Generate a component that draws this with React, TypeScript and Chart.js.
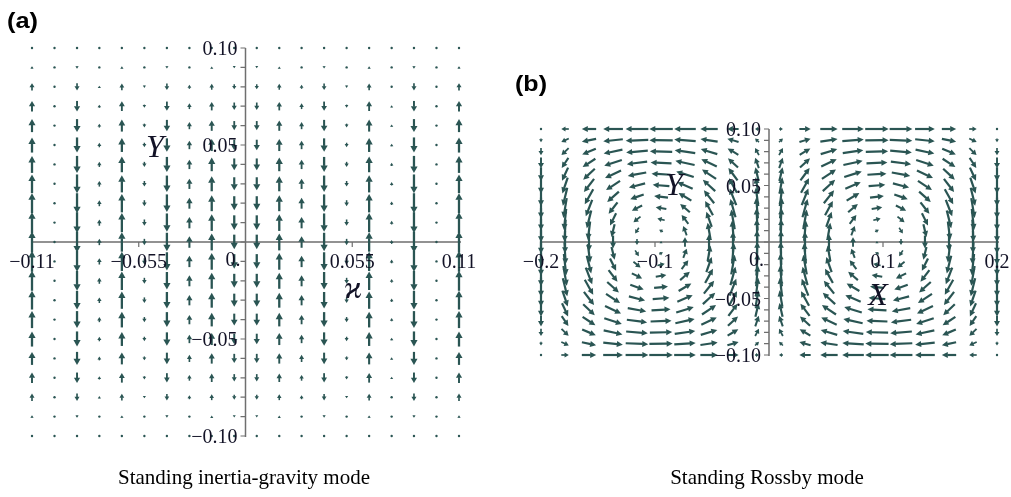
import { useEffect, useRef } from 'react';
import { Chart, registerables } from 'chart.js';

Chart.register(...registerables);

const INK = '#2a5553';
const AXIS_COLOR = '#6f6f6f';
const TEXT_COLOR = '#121226';
const SERIF = "'Liberation Serif', 'DejaVu Serif', serif";
const SANS = "'Liberation Sans', Arial, sans-serif";

// ---------- (a) Standing inertia-gravity mode: vertical velocity field ----------
const igX = [-0.11, -0.0984, -0.0868, -0.0753, -0.0637, -0.0521, -0.0405, -0.0289, -0.0174, -0.0058,
  0.0058, 0.0174, 0.0289, 0.0405, 0.0521, 0.0637, 0.0753, 0.0868, 0.0984, 0.11];
const igY = [-0.1, -0.09, -0.08, -0.07, -0.06, -0.05, -0.04, -0.03, -0.02, -0.01, 0,
  0.01, 0.02, 0.03, 0.04, 0.05, 0.06, 0.07, 0.08, 0.09, 0.1];
// signed column amplitude (positive = upward)
const igColumnW = [1.0, 0.05, -1.0, 0.3, 0.92, -0.3, -0.88, 0.55, 0.8, -0.7,
  -0.7, 0.8, 0.55, -0.88, -0.3, 0.92, 0.18, -1.0, 0.05, 1.0];
// row envelope
const igRowW = [0, 0.12, 0.35, 0.5, 0.62, 0.72, 0.81, 0.89, 0.95, 0.99, 1,
  0.99, 0.95, 0.89, 0.81, 0.72, 0.62, 0.5, 0.35, 0.12, 0];
const igXTickValues = [-0.11, -0.055, 0.055, 0.11];
const igXTickLabels = ['−0.11', '−0.055', '0.055', '0.11'];
const igYLabelValues = [0.1, 0.05, -0.05, -0.1];
const igYTickLabels = ['0.10', '0.05', '−0.05', '−0.10'];

// ---------- (b) Standing Rossby mode: horizontal velocity field (two gyres) ----------
const rbX = [-0.2, -0.1789, -0.1579, -0.1368, -0.1158, -0.0947, -0.0737, -0.0526, -0.0316, -0.0105,
  0.0105, 0.0316, 0.0526, 0.0737, 0.0947, 0.1158, 0.1368, 0.1579, 0.1789, 0.2];
const rbY = [-0.1, -0.09, -0.08, -0.07, -0.06, -0.05, -0.04, -0.03, -0.02, -0.01, 0,
  0.01, 0.02, 0.03, 0.04, 0.05, 0.06, 0.07, 0.08, 0.09, 0.1];
const rbUCol = [0, -0.32, -0.61, -0.84, -0.97, -1.0, -0.92, -0.74, -0.48, -0.17,
  0.17, 0.48, 0.74, 0.92, 1.0, 0.97, 0.84, 0.61, 0.32, 0];
const rbURow = [-1, -0.99, -0.95, -0.89, -0.81, -0.71, -0.59, -0.45, -0.31, -0.16, 0,
  0.16, 0.31, 0.45, 0.59, 0.71, 0.81, 0.89, 0.95, 0.99, 1];
const rbVCol = [-1, -0.95, -0.79, -0.55, -0.25, 0.08, 0.4, 0.68, 0.88, 0.99,
  0.99, 0.88, 0.68, 0.4, 0.08, -0.25, -0.55, -0.79, -0.95, -1];
const rbVRow = [0, 0.16, 0.31, 0.45, 0.59, 0.71, 0.81, 0.89, 0.95, 0.99, 1,
  0.99, 0.95, 0.89, 0.81, 0.71, 0.59, 0.45, 0.31, 0.16, 0];
const rbXTickValues = [-0.2, -0.1, 0.1, 0.2];
const rbXTickLabels = ['−0.2', '−0.1', '0.1', '0.2'];
const rbYLabelValues = [0.1, 0.05, -0.05, -0.1];
const rbYTickLabels = ['0.10', '0.05', '−0.05', '−0.10'];

type Vec = { x: number; y: number; u: number; v: number };

const igPoints: Vec[] = [];
igY.forEach((y, j) => igX.forEach((x, i) => igPoints.push({ x, y, u: 0, v: igColumnW[i] * igRowW[j] })));
const rbPoints: Vec[] = [];
rbY.forEach((y, j) => rbX.forEach((x, i) =>
  rbPoints.push({ x, y, u: rbUCol[i] * rbURow[j], v: rbVCol[i] * rbVRow[j] })));

type Spec = {
  id: string;
  left: number;
  width: number;
  pad: { left: number; right: number; top: number; bottom: number };
  xRange: [number, number];
  yRange: [number, number];
  points: Vec[];
  arrowPx: number;
  head: { len: number; half: number; shaft: number };
  xTickValues: number[];
  xTickLabels: string[];
  yMinor: number[];
  yLabelValues: number[];
  yTickLabels: string[];
  axisNames: { text: string; x: number; y: number }[];
  tag: { text: string; x: number; y: number; w: number };
  caption: { text: string; x: number; y: number };
};

const HEIGHT = 497;

const specs: Spec[] = [
  {
    id: 'a', left: 0, width: 505,
    pad: { left: 32, right: 46, top: 48, bottom: 61 },
    xRange: [-0.11, 0.11], yRange: [-0.1, 0.1],
    points: igPoints, arrowPx: 21,
    head: { len: 6.5, half: 3.6, shaft: 2.3 },
    xTickValues: igXTickValues, xTickLabels: igXTickLabels,
    yMinor: igY, yLabelValues: igYLabelValues, yTickLabels: igYTickLabels,
    axisNames: [{ text: 'Y', x: 155, y: 157 }, { text: 'ϰ', x: 353, y: 298 }],
    tag: { text: '(a)', x: 7, y: 28, w: 31 },
    caption: { text: 'Standing inertia-gravity mode', x: 244, y: 484 },
  },
  {
    id: 'b', left: 505, width: 506,
    pad: { left: 36, right: 14, top: 129, bottom: 142 },
    xRange: [-0.2, 0.2], yRange: [-0.1, 0.1],
    points: rbPoints, arrowPx: 23.5,
    head: { len: 6, half: 3.0, shaft: 2.2 },
    xTickValues: rbXTickValues, xTickLabels: rbXTickLabels,
    yMinor: rbY, yLabelValues: rbYLabelValues, yTickLabels: rbYTickLabels,
    axisNames: [{ text: 'Y', x: 674, y: 195 }, { text: 'X', x: 878, y: 305 }],
    tag: { text: '(b)', x: 515, y: 91, w: 32 },
    caption: { text: 'Standing Rossby mode', x: 767, y: 484 },
  },
];

function drawArrow(ctx: CanvasRenderingContext2D, cx: number, cy: number, dx: number, dy: number,
  st: { len: number; half: number; shaft: number }) {
  const len = Math.hypot(dx, dy);
  ctx.fillStyle = INK;
  ctx.strokeStyle = INK;
  if (len < 1.4) {
    ctx.beginPath();
    ctx.arc(cx, cy, 1.2, 0, Math.PI * 2);
    ctx.fill();
    return;
  }
  const ux = dx / len;
  const uy = dy / len;
  const hl = Math.min(st.len, 0.35 * len + 1.6);
  const hw = Math.min(st.half, 0.18 * len + 1.2);
  const sw = Math.min(st.shaft, 0.09 * len + 1.0);
  const sx = cx - dx / 2;
  const sy = cy - dy / 2;
  const ex = cx + dx / 2;
  const ey = cy + dy / 2;
  const bx = ex - ux * hl;
  const by = ey - uy * hl;
  ctx.lineWidth = sw;
  ctx.lineCap = 'butt';
  ctx.beginPath();
  ctx.moveTo(sx, sy);
  ctx.lineTo(bx + ux * 0.5, by + uy * 0.5);
  ctx.stroke();
  ctx.beginPath();
  ctx.moveTo(ex, ey);
  ctx.lineTo(bx - uy * hw, by + ux * hw);
  ctx.lineTo(bx + uy * hw, by - ux * hw);
  ctx.closePath();
  ctx.fill();
}

function makePlugin(spec: Spec) {
  return {
    id: 'fieldplot-' + spec.id,
    beforeDatasetsDraw(chart: any) {
      const ctx: CanvasRenderingContext2D = chart.ctx;
      const xs = chart.scales.x;
      const ys = chart.scales.y;
      const x0 = xs.getPixelForValue(0);
      const y0 = ys.getPixelForValue(0);
      ctx.save();
      ctx.strokeStyle = AXIS_COLOR;
      ctx.lineWidth = 1.5;
      ctx.beginPath();
      ctx.moveTo(xs.getPixelForValue(spec.xRange[0]), y0);
      ctx.lineTo(xs.getPixelForValue(spec.xRange[1]) + 2, y0);
      ctx.moveTo(x0, ys.getPixelForValue(spec.yRange[1]));
      ctx.lineTo(x0, ys.getPixelForValue(spec.yRange[0]) + 1);
      ctx.stroke();
      ctx.lineWidth = 1.2;
      ctx.beginPath();
      spec.yMinor.forEach((v) => {
        const py = ys.getPixelForValue(v);
        ctx.moveTo(x0 - 5, py);
        ctx.lineTo(x0, py);
      });
      spec.xTickValues.forEach((v) => {
        const px = xs.getPixelForValue(v);
        ctx.moveTo(px, y0);
        ctx.lineTo(px, y0 + 5);
      });
      ctx.stroke();
      ctx.restore();
    },
    afterDatasetsDraw(chart: any) {
      const ctx: CanvasRenderingContext2D = chart.ctx;
      const xs = chart.scales.x;
      const ys = chart.scales.y;
      const data = chart.data.datasets[0].data as Vec[];
      ctx.save();
      data.forEach((p) => {
        const cx = xs.getPixelForValue(p.x);
        const cy = ys.getPixelForValue(p.y);
        drawArrow(ctx, cx, cy, p.u * spec.arrowPx, -p.v * spec.arrowPx, spec.head);
      });
      ctx.restore();
    },
    afterDraw(chart: any) {
      const ctx: CanvasRenderingContext2D = chart.ctx;
      const xs = chart.scales.x;
      const ys = chart.scales.y;
      const x0 = xs.getPixelForValue(0);
      const y0 = ys.getPixelForValue(0);
      const off = spec.left;
      ctx.save();
      ctx.fillStyle = TEXT_COLOR;
      ctx.textBaseline = 'alphabetic';
      ctx.font = `20px ${SERIF}`;
      // y tick labels
      ctx.textAlign = 'right';
      spec.yLabelValues.forEach((v, k) => {
        ctx.fillText(spec.yTickLabels[k], x0 - 8, ys.getPixelForValue(v) + 7);
      });
      // x tick labels
      ctx.textAlign = 'center';
      spec.xTickValues.forEach((v, k) => {
        ctx.fillText(spec.xTickLabels[k], xs.getPixelForValue(v), y0 + 26);
      });
      ctx.textAlign = 'right';
      ctx.fillText('0.', x0 - 5, y0 + 24);
      // axis names
      ctx.font = `italic 32px ${SERIF}`;
      ctx.textAlign = 'center';
      spec.axisNames.forEach((a) => ctx.fillText(a.text, a.x - off, a.y));
      // caption
      ctx.fillStyle = '#000';
      ctx.font = `21px ${SERIF}`;
      ctx.fillText(spec.caption.text, spec.caption.x - off, spec.caption.y);
      // panel tag
      ctx.font = `bold 22px ${SANS}`;
      ctx.textAlign = 'left';
      const w0 = ctx.measureText(spec.tag.text).width;
      ctx.translate(spec.tag.x - off, spec.tag.y);
      ctx.scale(spec.tag.w / w0, 1);
      ctx.fillText(spec.tag.text, 0, 0);
      ctx.restore();
    },
  };
}

function FieldPanel({ spec }: { spec: Spec }) {
  const ref = useRef<HTMLCanvasElement>(null);
  useEffect(() => {
    const canvas = ref.current;
    if (!canvas) return;
    const chart = new Chart(canvas, {
      type: 'scatter',
      data: {
        datasets: [{
          data: spec.points as any,
          pointRadius: 0,
          pointHoverRadius: 0,
          showLine: false,
        }],
      },
      options: {
        animation: false,
        responsive: false,
        devicePixelRatio: 1,
        events: [],
        layout: { padding: spec.pad },
        scales: {
          x: { type: 'linear', min: spec.xRange[0], max: spec.xRange[1], display: false },
          y: { type: 'linear', min: spec.yRange[0], max: spec.yRange[1], display: false },
        },
        plugins: { legend: { display: false }, tooltip: { enabled: false } },
      },
      plugins: [makePlugin(spec)],
    });
    return () => chart.destroy();
  }, [spec]);
  return (
    <canvas
      ref={ref}
      width={spec.width}
      height={HEIGHT}
      style={{ position: 'absolute', left: spec.left, top: 0, width: spec.width, height: HEIGHT }}
    />
  );
}

export default function App() {
  return (
    <div style={{ position: 'fixed', left: 0, top: 0, width: 1011, height: HEIGHT, background: '#fff', overflow: 'hidden' }}>
      {specs.map((s) => <FieldPanel key={s.id} spec={s} />)}
    </div>
  );
}
